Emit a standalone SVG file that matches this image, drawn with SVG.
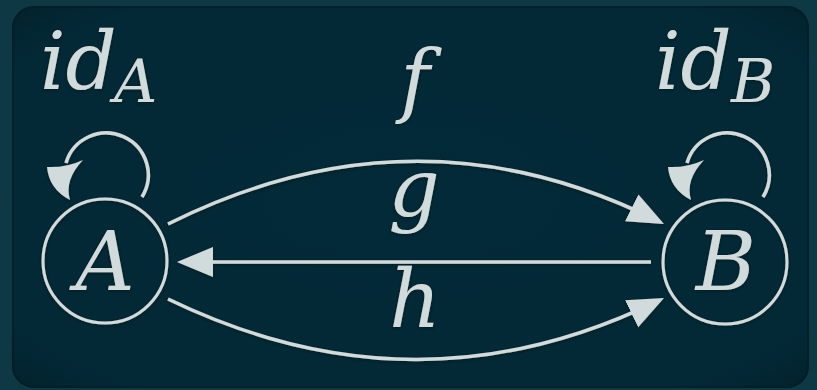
<svg xmlns="http://www.w3.org/2000/svg" width="817" height="390" viewBox="0 0 817 390">
  <defs>
    <style>
      .t { font-family: "DejaVu Serif", "Liberation Serif", serif; font-style: italic; fill: #d2dbdb; }
      .edge { fill: none; stroke: #d2dbdb; stroke-width: 3.5; }
      .node { fill: none; stroke: #d2dbdb; stroke-width: 3; }
      .head { fill: #d2dbdb; stroke: none; }
    </style>
    <marker id="arr" markerUnits="userSpaceOnUse" markerWidth="40" markerHeight="32" refX="30" refY="15" orient="auto">
      <path d="M0,0 L36,15 L0,30 Z" class="head"/>
    </marker>
    <radialGradient id="panel" cx="50%" cy="50%" r="70%">
      <stop offset="0%" stop-color="#032a38"/>
      <stop offset="85%" stop-color="#032936"/>
      <stop offset="100%" stop-color="#02222d"/>
    </radialGradient>
    <filter id="sh" x="-10%" y="-10%" width="120%" height="120%">
      <feDropShadow dx="0" dy="1" stdDeviation="1.5" flood-color="#00141b" flood-opacity="0.8"/>
    </filter>
  </defs>

  <rect x="0" y="0" width="817" height="390" fill="#0d3844"/>
  <rect x="12" y="6" width="797" height="382" rx="22" fill="url(#panel)"/>
  <rect x="13" y="7" width="795" height="380" rx="21" fill="none" stroke="#021c25" stroke-width="2" opacity="0.6"/>

  <g filter="url(#sh)">
    <g id="connectors">
      <path id="edge-f" class="edge" d="M168,224 Q416,100 658.6,221.3" marker-end="url(#arr)"/>
      <path id="edge-g" class="edge" d="M651,262 L183,262" marker-end="url(#arr)"/>
      <path id="edge-h" class="edge" d="M168,299 Q416,419 658.6,300.6" marker-end="url(#arr)"/>
      <path id="loop-A" class="edge" d="M142,197 A42,42 0 1 0 66,163"/>
      <path class="head" d="M47,167 Q49,189 70,200 Q64,180 83,160 Q66,168 47,167 Z"/>
      <path id="loop-B" class="edge" d="M763,197 A42,42 0 1 0 687,163"/>
      <path class="head" d="M668,167 Q670,189 691,200 Q685,180 704,160 Q687,168 668,167 Z"/>
    </g>

    <g id="node-A">
      <circle class="node" cx="105" cy="261" r="62"/>
      <text class="t" x="105" y="290" font-size="82" text-anchor="middle">A</text>
    </g>
    <g id="node-B">
      <circle class="node" cx="725" cy="262" r="62"/>
      <text class="t" x="726" y="290" font-size="82" text-anchor="middle">B</text>
    </g>

    <g id="labels">
      <text class="t" x="40" y="89" font-size="80">id</text>
      <text class="t" x="114" y="102" font-size="60">A</text>
      <text class="t" x="655" y="89" font-size="80">id</text>
      <text class="t" x="731" y="102" font-size="60">B</text>
      <text class="t" x="415" y="107" font-size="80" text-anchor="middle">f</text>
      <text class="t" x="414" y="216" font-size="80" text-anchor="middle">g</text>
      <text class="t" x="415" y="327" font-size="80" text-anchor="middle">h</text>
    </g>
  </g>
</svg>
